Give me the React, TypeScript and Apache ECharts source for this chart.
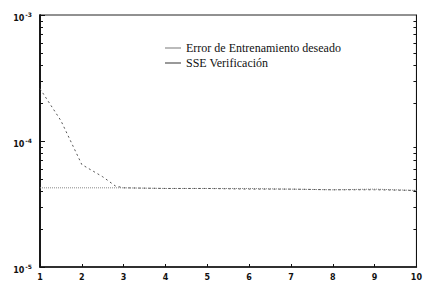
import React, { useEffect, useRef } from "react";
import * as echarts from "echarts";

const sseX = [1, 1.5, 2, 2.5, 2.8, 3, 4, 5, 6, 7, 8, 9, 10];
const sseY = [2.6e-4, 1.45e-4, 6.5e-5, 5.2e-5, 4.4e-5, 4.25e-5, 4.2e-5, 4.2e-5, 4.15e-5, 4.15e-5, 4.1e-5, 4.1e-5, 4.05e-5];
const desiredX = [1, 2, 3, 4, 5, 6, 7, 8, 9, 10];
const desiredY = [4.25e-5, 4.25e-5, 4.25e-5, 4.2e-5, 4.2e-5, 4.2e-5, 4.15e-5, 4.1e-5, 4.15e-5, 4.05e-5];
const xTicks = [1, 2, 3, 4, 5, 6, 7, 8, 9, 10];
const minorY = [2e-5, 3e-5, 4e-5, 5e-5, 6e-5, 7e-5, 8e-5, 9e-5, 2e-4, 3e-4, 4e-4, 5e-4, 6e-4, 7e-4, 8e-4, 9e-4];
const legendNames = ["Error de Entrenamiento deseado", "SSE Verificación"];

export default function App() {
  const ref = useRef<HTMLDivElement>(null);
  useEffect(() => {
    const chart = echarts.init(ref.current!, undefined, { renderer: "svg" });
    const minorAxis = (pos: string) => ({
      type: "value",
      min: -5,
      max: -3,
      interval: 1,
      position: pos,
      axisLine: { show: true, onZero: false, lineStyle: { color: "#111", width: pos === "left" ? 1.5 : 1 } },
      axisLabel: { show: false },
      splitLine: { show: false },
      axisTick: { show: true, inside: true, length: 3, customValues: minorY.map((v) => Math.log10(v)), lineStyle: { color: "#111" } },
    });
    chart.setOption({
      animation: false,
      backgroundColor: "#fff",
      grid: { left: 40, right: 4, top: 15, bottom: 31, show: true, borderColor: "#222", borderWidth: 1 },
      legend: {
        left: 160,
        top: 37,
        orient: "vertical",
        itemGap: 3,
        itemWidth: 16,
        itemHeight: 1,
        icon: "rect",
        textStyle: { fontFamily: "Liberation Serif, serif", fontSize: 12, color: "#111" },
        data: legendNames,
      },
      xAxis: {
        type: "value",
        min: 1,
        max: 10,
        interval: 1,
        axisLine: { onZero: false, lineStyle: { color: "#111", width: 1.5 } },
        axisTick: { inside: true, length: 3, lineStyle: { color: "#111" } },
        splitLine: { show: false },
        axisLabel: {
          fontFamily: "DejaVu Sans",
          fontSize: 8,
          fontWeight: "bold",
          color: "#111",
          margin: 6,
          formatter: (v: number) => (xTicks.includes(v) ? String(v) : ""),
        },
      },
      yAxis: [
        {
          type: "log",
          logBase: 10,
          min: 1e-5,
          max: 1e-3,
          axisLine: { show: true, lineStyle: { color: "#111", width: 1.5 } },
          axisTick: { inside: true, length: 5, lineStyle: { color: "#111" } },
          splitLine: { show: false },
          axisLabel: {
            margin: 8,
            formatter: (v: number) => {
              const e = Math.round(Math.log10(v));
              return "{b|10}{s|" + e + "}";
            },
            rich: {
              b: { fontFamily: "DejaVu Sans", fontSize: 8, fontWeight: "bold", color: "#111", padding: [6, 0, 0, 0] },
              s: { fontFamily: "DejaVu Sans", fontSize: 6, fontWeight: "bold", color: "#111", padding: [0, 0, 2, 1] },
            },
          },
        },
        minorAxis("left"),
        minorAxis("right"),
      ],
      series: [
        {
          name: legendNames[0],
          type: "line",
          data: desiredX.map((x, i) => [x, desiredY[i]]),
          showSymbol: false,
          lineStyle: { color: "#888", width: 1, type: "dotted" },
          itemStyle: { color: "#777" },
        },
        {
          name: legendNames[1],
          type: "line",
          data: sseX.map((x, i) => [x, sseY[i]]),
          showSymbol: false,
          lineStyle: { color: "#555", width: 1, type: [2, 3] },
          itemStyle: { color: "#333" },
        },
        { name: "minorL", type: "line", yAxisIndex: 1, data: [], silent: true },
        { name: "minorR", type: "line", yAxisIndex: 2, data: [], silent: true },
      ],
    });
    return () => chart.dispose();
  }, []);
  return <div ref={ref} style={{ width: 425, height: 298, position: "absolute", left: 0, top: 0 }} />;
}
